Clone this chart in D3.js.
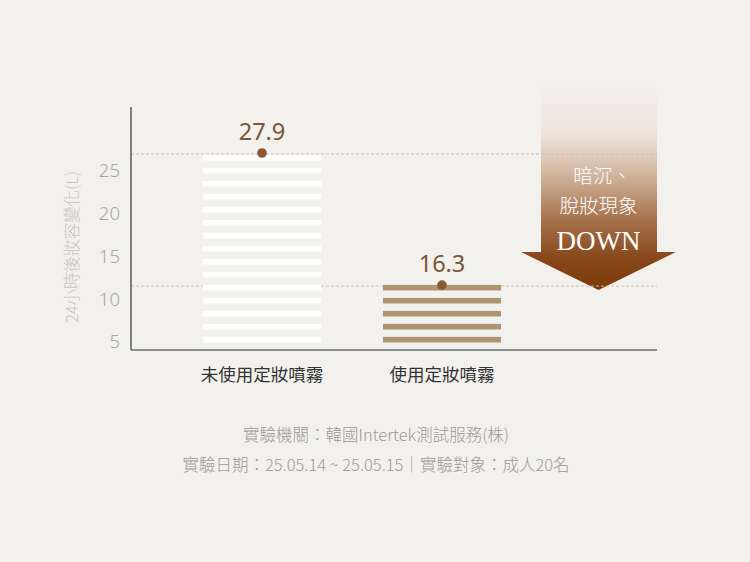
<!DOCTYPE html>
<html>
<head>
<meta charset="utf-8">
<script src="https://cdn.jsdelivr.net/npm/d3@7"></script>
<style>
  html, body { margin: 0; padding: 0; background: #f3f1ee; }
  svg { display: block; }
  text { font-family: "Noto Sans CJK TC", "Noto Sans", sans-serif; }
</style>
</head>
<body>
<svg id="chart" width="750" height="562"></svg>
<script>
// chart data
const categories = ["未使用定妝噴霧", "使用定妝噴霧"];
const values = [27.9, 16.3];
const barFills = ["#ffffff", "#ad9574"];
const tickValues = [5, 10, 15, 20, 25];
const yTitle = "24小時後妝容變化(L)";
const arrowLines = ["暗沉、", "脫妝現象"];
const arrowWord = "DOWN";
const footLines = [
  "實驗機關：韓國Intertek測試服務(株)",
  "實驗日期：25.05.14 ~ 25.05.15｜實驗對象：成人20名"
];

const W = 750, H = 562;
const axisX = 131, baseY = 350, axisTop = 107, axisRight = 657;
const stripeBottom = 342.5, stripeH = 5.6, stripeStep = 13;

const svg = d3.select("#chart");

svg.append("rect").attr("width", W).attr("height", H).attr("fill", "#f3f1ee");

// tick scale (labels) and bar scale (the bars are drawn on their own stretched scale)
const yTick = d3.scaleLinear().domain([5, 25]).range([342, 171]);
const yBar = d3.scaleLinear().domain([10.6, 27.9]).range([baseY, 153]);

const x = d3.scaleBand()
    .domain(categories)
    .range([172, 532])
    .paddingInner(0.344)
    .paddingOuter(0.172);

// arrow with gradient
const defs = svg.append("defs");
const grad = defs.append("linearGradient")
    .attr("id", "arrowGrad")
    .attr("x1", 0).attr("y1", 0).attr("x2", 0).attr("y2", 1);
grad.append("stop").attr("offset", "0%").attr("stop-color", "#f3f1ee");
grad.append("stop").attr("offset", "25%").attr("stop-color", "#eee4db");
grad.append("stop").attr("offset", "45%").attr("stop-color", "#d0b39b");
grad.append("stop").attr("offset", "65%").attr("stop-color", "#a8754f");
grad.append("stop").attr("offset", "85%").attr("stop-color", "#874719");
grad.append("stop").attr("offset", "100%").attr("stop-color", "#7a3a0a");

const ax = { l: 541, r: 657, top: 83, wing: 252, wl: 521, wr: 676, tip: 290 };
const cx = (ax.l + ax.r) / 2 - 0.5;
svg.append("path")
    .attr("d", `M${ax.l},${ax.top}L${ax.r},${ax.top}L${ax.r},${ax.wing}L${ax.wr},${ax.wing}` +
               `L${cx},${ax.tip}L${ax.wl},${ax.wing}L${ax.l},${ax.wing}Z`)
    .attr("fill", "url(#arrowGrad)");

// dashed reference lines
svg.append("g").selectAll("line")
    .data(values)
    .join("line")
    .attr("x1", axisX).attr("x2", axisRight)
    .attr("y1", d => yBar(d) + 1).attr("y2", d => yBar(d) + 1)
    .attr("stroke", "#cdbfb1")
    .attr("stroke-width", 1)
    .attr("stroke-dasharray", "3,2");

// striped bars
const bars = svg.append("g").selectAll("g.bar")
    .data(values)
    .join("g")
    .attr("class", "bar");

bars.each(function(v, i) {
  const top = yBar(v) - 1;
  const n = Math.floor((stripeBottom - stripeH - top) / stripeStep) + 1;
  d3.select(this).selectAll("rect")
    .data(d3.range(n))
    .join("rect")
    .attr("x", x(categories[i]))
    .attr("width", x.bandwidth())
    .attr("y", k => stripeBottom - stripeH - k * stripeStep)
    .attr("height", stripeH)
    .attr("fill", barFills[i]);
});

// axes lines
svg.append("line")
    .attr("x1", axisX).attr("x2", axisX)
    .attr("y1", axisTop).attr("y2", baseY)
    .attr("stroke", "#5a5a5a").attr("stroke-width", 1.5);
svg.append("line")
    .attr("x1", axisX).attr("x2", axisRight)
    .attr("y1", baseY).attr("y2", baseY)
    .attr("stroke", "#6a6a6a").attr("stroke-width", 1.5);

// tick labels
const yAxis = svg.append("g")
    .attr("transform", `translate(${axisX - 11},0)`)
    .call(d3.axisLeft(yTick).tickValues(tickValues).tickSize(0).tickPadding(0));
yAxis.select(".domain").remove();
yAxis.selectAll("text")
    .attr("fill", "#aaa6a1")
    .style("font-size", "18.5px")
    .style("font-family", "'Noto Sans', sans-serif")
    .style("font-weight", 300);

svg.append("text")
    .attr("transform", "translate(78,247) rotate(-90)")
    .attr("text-anchor", "middle")
    .attr("fill", "#c9c4be")
    .style("font-size", "16.5px")
    .style("font-weight", 300)
    .text(yTitle);

// dots and values
svg.append("g").selectAll("circle")
    .data(values)
    .join("circle")
    .attr("cx", (d, i) => x(categories[i]) + x.bandwidth() / 2)
    .attr("cy", d => yBar(d))
    .attr("r", 4.8)
    .attr("fill", "#8b5a33");

svg.append("g").selectAll("text")
    .data(values)
    .join("text")
    .attr("x", (d, i) => x(categories[i]) + x.bandwidth() / 2)
    .attr("y", d => yBar(d) - 13)
    .attr("text-anchor", "middle")
    .attr("fill", "#7a5536")
    .style("font-size", "23.5px")
    .style("font-family", "'Noto Sans', sans-serif")
    .text(d => d3.format(".1f")(d));

// category labels
svg.append("g").selectAll("text")
    .data(categories)
    .join("text")
    .attr("x", d => x(d) + x.bandwidth() / 2)
    .attr("y", 381)
    .attr("text-anchor", "middle")
    .attr("fill", "#333")
    .style("font-size", "17.5px")
    .text(d => d);

// arrow text
svg.append("g").selectAll("text")
    .data(arrowLines)
    .join("text")
    .attr("x", (d, i) => cx + (i === 0 ? 4 : 0))
    .attr("y", (d, i) => 183 + i * 30)
    .attr("text-anchor", "middle")
    .attr("fill", "#ffffff")
    .style("font-size", "19.5px")
    .style("font-weight", 300)
    .text(d => d);

svg.append("text")
    .attr("x", cx)
    .attr("y", 250)
    .attr("text-anchor", "middle")
    .attr("fill", "#ffffff")
    .style("font-family", "'Liberation Serif', serif")
    .style("font-size", "27px")
    .text(arrowWord);

// footnote
svg.append("g").selectAll("text")
    .data(footLines)
    .join("text")
    .attr("x", 376)
    .attr("y", (d, i) => 441 + i * 30)
    .attr("text-anchor", "middle")
    .attr("fill", "#9f9993")
    .style("font-size", "16.5px")
    .style("font-weight", 300)
    .text(d => d);
</script>
</body>
</html>
